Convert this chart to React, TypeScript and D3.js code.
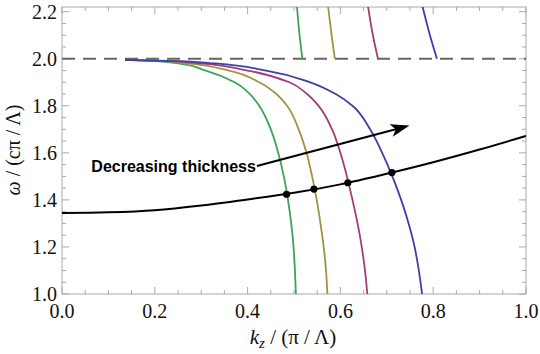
import React from 'react';
import * as d3 from 'd3';

// frequency vs wavevector
const fundK = [0, 0.1, 0.2, 0.3, 0.4, 0.5, 0.6, 0.7, 0.8, 0.9, 1.0];
const fundW = [1.344, 1.347, 1.356, 1.376, 1.402, 1.43, 1.466, 1.511, 1.56, 1.614, 1.672];

// lower branches, sampled at common frequencies
const lowerW = [1.995, 1.99, 1.98, 1.95, 1.9, 1.85, 1.8, 1.7, 1.6, 1.5, 1.4, 1.3, 1.2, 1.1, 1.0];
const greenK = [0.136, 0.2, 0.25, 0.31, 0.372, 0.405, 0.425, 0.45, 0.466, 0.478, 0.487, 0.494, 0.499, 0.502, 0.504];
const oliveK = [0.136, 0.21, 0.27, 0.36, 0.425, 0.462, 0.485, 0.51, 0.527, 0.539, 0.549, 0.557, 0.564, 0.569, 0.572];
const magentaK = [0.136, 0.23, 0.3, 0.4, 0.49, 0.528, 0.553, 0.582, 0.6, 0.614, 0.626, 0.637, 0.646, 0.653, 0.658];
const blueK = [0.136, 0.25, 0.33, 0.44, 0.535, 0.59, 0.626, 0.664, 0.69, 0.712, 0.731, 0.747, 0.76, 0.769, 0.776];

// upper branches above the light line
const upperW = [2.0, 2.1, 2.23];
const greenUpK = [0.518, 0.512, 0.506];
const oliveUpK = [0.588, 0.581, 0.573];
const magentaUpK = [0.681, 0.67, 0.659];
const blueUpK = [0.808, 0.793, 0.776];

const dotK = [0.484, 0.543, 0.616, 0.711];
const dotW = [1.424, 1.446, 1.473, 1.516];

const lightLine = 2.0;
const xTicks = [0, 0.2, 0.4, 0.6, 0.8, 1.0];
const yTicks = [1.0, 1.2, 1.4, 1.6, 1.8, 2.0, 2.2];

const colors = ['#3da35a', '#a39340', '#a33d78', '#3f3faa'];

const width = 540;
const height = 354;
const left = 62, right = 526, top = 7, bottom = 294;

const x = d3.scaleLinear().domain([0, 1]).range([left, right]);
const y = d3.scaleLinear().domain([1.0, 2.22]).range([bottom, top]);

const zip = (ks: number[], ws: number[]) => ks.map((k, i) => [k, ws[i]] as [number, number]);

const lineY = d3.line<[number, number]>()
  .x(d => x(d[0]))
  .y(d => y(d[1]))
  .curve(d3.curveMonotoneY);

const lineX = d3.line<[number, number]>()
  .x(d => x(d[0]))
  .y(d => y(d[1]))
  .curve(d3.curveMonotoneX);

const lower = [greenK, oliveK, magentaK, blueK].map(ks => zip(ks, lowerW));
const upper = [greenUpK, oliveUpK, magentaUpK, blueUpK].map(ks => zip(ks, upperW));

const minorX = d3.range(0, 1.0001, 0.05);
const minorY = d3.range(1.0, 2.2001, 0.05);

const frameColor = '#aaaaaa';
const serif = '"Liberation Serif", "DejaVu Serif", serif';

export default function App() {
  const arrowFrom: [number, number] = [0.42, 1.544];
  const arrowTo: [number, number] = [0.749, 1.716];
  const ax0 = x(arrowFrom[0]), ay0 = y(arrowFrom[1]);
  const ax1 = x(arrowTo[0]), ay1 = y(arrowTo[1]);
  const ang = Math.atan2(ay1 - ay0, ax1 - ax0);
  const hl = 19, hw = 6.5;
  const bx = ax1 - hl * Math.cos(ang), by = ay1 - hl * Math.sin(ang);
  const head = [
    [ax1, ay1],
    [bx + hw * Math.sin(ang), by - hw * Math.cos(ang)],
    [ax1 - hl * 0.75 * Math.cos(ang), ay1 - hl * 0.75 * Math.sin(ang)],
    [bx - hw * Math.sin(ang), by + hw * Math.cos(ang)],
  ].map(p => p.join(',')).join(' ');

  return (
    <svg width={width} height={height} style={{ position: 'absolute', left: 0, top: 0, background: '#fff' }}>
      <defs>
        <clipPath id="plot">
          <rect x={left} y={top} width={right - left} height={bottom - top} />
        </clipPath>
      </defs>

      {/* frame and ticks */}
      <rect x={left} y={top} width={right - left} height={bottom - top} fill="none" stroke={frameColor} strokeWidth={1} />
      {minorX.map((t, i) => {
        const major = Math.abs(t * 5 - Math.round(t * 5)) < 1e-6;
        const len = major ? 7 : 4;
        return (
          <g key={'mx' + i} stroke={frameColor} strokeWidth={1}>
            <line x1={x(t)} x2={x(t)} y1={bottom} y2={bottom - len} />
            <line x1={x(t)} x2={x(t)} y1={top} y2={top + len} />
          </g>
        );
      })}
      {minorY.map((t, i) => {
        const major = Math.abs(t * 5 - Math.round(t * 5)) < 1e-6;
        const len = major ? 7 : 4;
        return (
          <g key={'my' + i} stroke={frameColor} strokeWidth={1}>
            <line x1={left} x2={left + len} y1={y(t)} y2={y(t)} />
            <line x1={right} x2={right - len} y1={y(t)} y2={y(t)} />
          </g>
        );
      })}

      {xTicks.map(t => (
        <text key={'xt' + t} x={x(t)} y={318} textAnchor="middle" fontFamily={serif} fontSize={20} fill="#111">
          {t.toFixed(1)}
        </text>
      ))}
      {yTicks.map(t => (
        <text key={'yt' + t} x={57} y={y(t) + 7} textAnchor="end" fontFamily={serif} fontSize={20} fill="#111">
          {t.toFixed(1)}
        </text>
      ))}

      <g clipPath="url(#plot)">
        <line x1={left} x2={right} y1={y(lightLine)} y2={y(lightLine)} stroke="#666" strokeWidth={2} strokeDasharray="13 8" />
        {lower.map((pts, i) => (
          <path key={'lo' + i} d={lineY(pts) || ''} fill="none" stroke={colors[i]} strokeWidth={1.8} />
        ))}
        {upper.map((pts, i) => (
          <path key={'up' + i} d={lineY(pts) || ''} fill="none" stroke={colors[i]} strokeWidth={1.8} />
        ))}
        <path d={lineX(zip(fundK, fundW)) || ''} fill="none" stroke="#000" strokeWidth={2} />
        {dotK.map((k, i) => (
          <circle key={'d' + i} cx={x(k)} cy={y(dotW[i])} r={3.6} fill="#000" />
        ))}
      </g>

      {/* annotation */}
      <line x1={ax0} y1={ay0} x2={ax1 - hl * 0.7 * Math.cos(ang)} y2={ay1 - hl * 0.7 * Math.sin(ang)} stroke="#000" strokeWidth={2} />
      <polygon points={head} fill="#000" />
      <text x={ax0 - 1} y={ay0 + 6} textAnchor="end" fontFamily='"Liberation Sans", Arial, sans-serif' fontWeight="bold" fontSize={16} fill="#000">
        Decreasing thickness
      </text>

      {/* axis titles */}
      <text x={293} y={344} textAnchor="middle" fontFamily={serif} fontSize={21} fill="#111">
        <tspan fontStyle="italic">k</tspan>
        <tspan fontStyle="italic" fontSize={15} dy={4}>z</tspan>
        <tspan dy={-4}> / (π / Λ)</tspan>
      </text>
      <text transform="translate(20,150) rotate(-90)" textAnchor="middle" fontFamily={serif} fontSize={20} fill="#111">
        <tspan fontStyle="italic">ω</tspan>
        <tspan> / (cπ / Λ)</tspan>
      </text>
    </svg>
  );
}
